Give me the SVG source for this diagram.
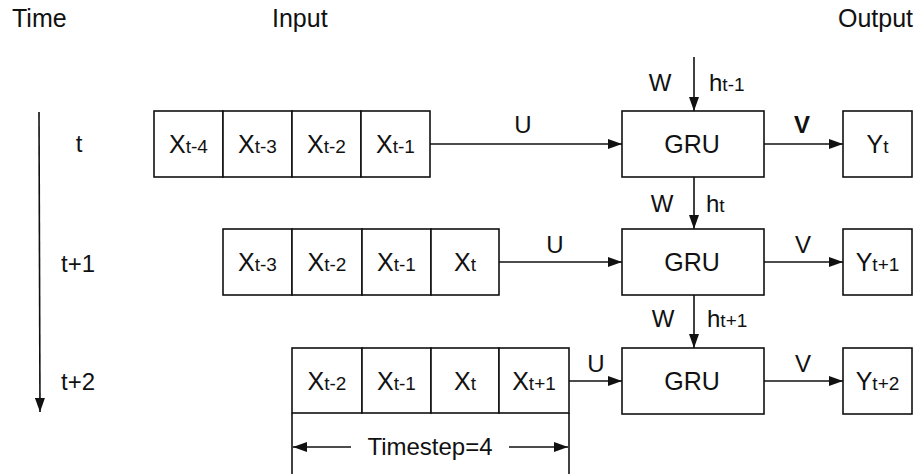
<svg xmlns="http://www.w3.org/2000/svg" width="921" height="474" viewBox="0 0 921 474">
  <style>
    text { font-family: "Liberation Sans", Arial, Helvetica, sans-serif; fill: #111; }
    .hdr { font-size: 25px; }
    .lbl { font-size: 24px; }
    .cell { font-size: 25px; text-anchor: middle; }
    .sub { font-size: 19px; }
    .box { fill: #fff; stroke: #111; stroke-width: 1.6; }
    .ln { fill: none; stroke: #111; stroke-width: 1.6; }
  </style>
  <defs>
    <marker id="arrow" viewBox="0 0 14 10" refX="14" refY="5" markerWidth="14" markerHeight="10" markerUnits="userSpaceOnUse" orient="auto-start-reverse">
      <path d="M0,0 L14,5 L0,10 Z" fill="#111"/>
    </marker>
  </defs>
  <rect width="921" height="474" fill="#fff"/>

  <!-- column headers -->
  <g id="headers">
    <text class="hdr" x="12" y="27">Time</text>
    <text class="hdr" x="272" y="27">Input</text>
    <text class="hdr" x="838" y="27">Output</text>
  </g>

  <!-- time axis -->
  <g id="time-axis">
    <line class="ln" x1="39" y1="112" x2="40" y2="412" marker-end="url(#arrow)"/>
    <text class="lbl" x="79" y="152" text-anchor="middle">t</text>
    <text class="lbl" x="78" y="272" text-anchor="middle">t+1</text>
    <text class="lbl" x="78" y="390" text-anchor="middle">t+2</text>
  </g>

  <!-- input window, step t -->
  <g id="input-t">
    <rect class="box" x="154" y="111" width="69" height="66"/>
    <rect class="box" x="223" y="111" width="69" height="66"/>
    <rect class="box" x="292" y="111" width="69" height="66"/>
    <rect class="box" x="361" y="111" width="69" height="66"/>
    <text class="cell" x="188.5" y="153">X<tspan class="sub">t-4</tspan></text>
    <text class="cell" x="257.5" y="153">X<tspan class="sub">t-3</tspan></text>
    <text class="cell" x="326.5" y="153">X<tspan class="sub">t-2</tspan></text>
    <text class="cell" x="395.5" y="153">X<tspan class="sub">t-1</tspan></text>
  </g>

  <!-- input window, step t+1 -->
  <g id="input-t1">
    <rect class="box" x="223" y="229" width="69" height="66"/>
    <rect class="box" x="292" y="229" width="70" height="66"/>
    <rect class="box" x="362" y="229" width="69" height="66"/>
    <rect class="box" x="431" y="229" width="68" height="66"/>
    <text class="cell" x="257.5" y="271">X<tspan class="sub">t-3</tspan></text>
    <text class="cell" x="327" y="271">X<tspan class="sub">t-2</tspan></text>
    <text class="cell" x="396.5" y="271">X<tspan class="sub">t-1</tspan></text>
    <text class="cell" x="465" y="271">X<tspan class="sub">t</tspan></text>
  </g>

  <!-- input window, step t+2 -->
  <g id="input-t2">
    <rect class="box" x="292" y="348" width="70" height="65"/>
    <rect class="box" x="362" y="348" width="69" height="65"/>
    <rect class="box" x="431" y="348" width="68" height="65"/>
    <rect class="box" x="499" y="348" width="70" height="65"/>
    <text class="cell" x="327" y="390">X<tspan class="sub">t-2</tspan></text>
    <text class="cell" x="396.5" y="390">X<tspan class="sub">t-1</tspan></text>
    <text class="cell" x="465" y="390">X<tspan class="sub">t</tspan></text>
    <text class="cell" x="534" y="390">X<tspan class="sub">t+1</tspan></text>
  </g>

  <!-- GRU cells -->
  <g id="gru-t">
    <rect class="box" x="622" y="111" width="142" height="66"/>
    <text class="cell" x="692" y="153">GRU</text>
  </g>
  <g id="gru-t1">
    <rect class="box" x="622" y="229" width="142" height="66"/>
    <text class="cell" x="692" y="271">GRU</text>
  </g>
  <g id="gru-t2">
    <rect class="box" x="622" y="348" width="142" height="66"/>
    <text class="cell" x="692" y="390">GRU</text>
  </g>

  <!-- outputs -->
  <g id="out-t">
    <rect class="box" x="843" y="111" width="69" height="66"/>
    <text class="cell" x="877.5" y="153">Y<tspan class="sub">t</tspan></text>
  </g>
  <g id="out-t1">
    <rect class="box" x="843" y="229" width="69" height="66"/>
    <text class="cell" x="877.5" y="271">Y<tspan class="sub">t+1</tspan></text>
  </g>
  <g id="out-t2">
    <rect class="box" x="843" y="348" width="69" height="66"/>
    <text class="cell" x="877.5" y="390">Y<tspan class="sub">t+2</tspan></text>
  </g>

  <!-- connectors -->
  <g id="connectors">
    <!-- input to GRU (U) -->
    <line class="ln" x1="430" y1="144" x2="622" y2="144" marker-end="url(#arrow)"/>
    <line class="ln" x1="499" y1="262" x2="622" y2="262" marker-end="url(#arrow)"/>
    <line class="ln" x1="569" y1="381" x2="622" y2="381" marker-end="url(#arrow)"/>
    <!-- GRU to output (V) -->
    <line class="ln" x1="764" y1="144" x2="843" y2="144" marker-end="url(#arrow)"/>
    <line class="ln" x1="764" y1="262" x2="843" y2="262" marker-end="url(#arrow)"/>
    <line class="ln" x1="764" y1="381" x2="843" y2="381" marker-end="url(#arrow)"/>
    <!-- hidden state (W) -->
    <line class="ln" x1="694" y1="57" x2="694" y2="111" marker-end="url(#arrow)"/>
    <line class="ln" x1="694" y1="177" x2="694" y2="229" marker-end="url(#arrow)"/>
    <line class="ln" x1="694" y1="295" x2="694" y2="348" marker-end="url(#arrow)"/>
  </g>

  <!-- connector labels -->
  <g id="connector-labels">
    <text class="lbl" x="523" y="133" text-anchor="middle">U</text>
    <text class="lbl" x="555" y="253" text-anchor="middle">U</text>
    <text class="lbl" x="596" y="372" text-anchor="middle">U</text>
    <text class="lbl" x="802" y="133" text-anchor="middle" font-weight="bold">V</text>
    <text class="lbl" x="803" y="253" text-anchor="middle">V</text>
    <text class="lbl" x="803" y="372" text-anchor="middle">V</text>
    <text class="lbl" x="660" y="91" text-anchor="middle">W</text>
    <text class="lbl" x="709" y="91">h<tspan class="sub">t-1</tspan></text>
    <text class="lbl" x="662" y="212" text-anchor="middle">W</text>
    <text class="lbl" x="706" y="212">h<tspan class="sub">t</tspan></text>
    <text class="lbl" x="663" y="327" text-anchor="middle">W</text>
    <text class="lbl" x="707" y="327">h<tspan class="sub">t+1</tspan></text>
  </g>

  <!-- window width dimension -->
  <g id="timestep">
    <line class="ln" x1="292" y1="413" x2="292" y2="474"/>
    <line class="ln" x1="569" y1="413" x2="569" y2="474"/>
    <line class="ln" x1="351" y1="447" x2="293" y2="447" marker-end="url(#arrow)"/>
    <line class="ln" x1="509" y1="447" x2="568" y2="447" marker-end="url(#arrow)"/>
    <text class="lbl" x="430" y="455" text-anchor="middle">Timestep=4</text>
  </g>
</svg>
